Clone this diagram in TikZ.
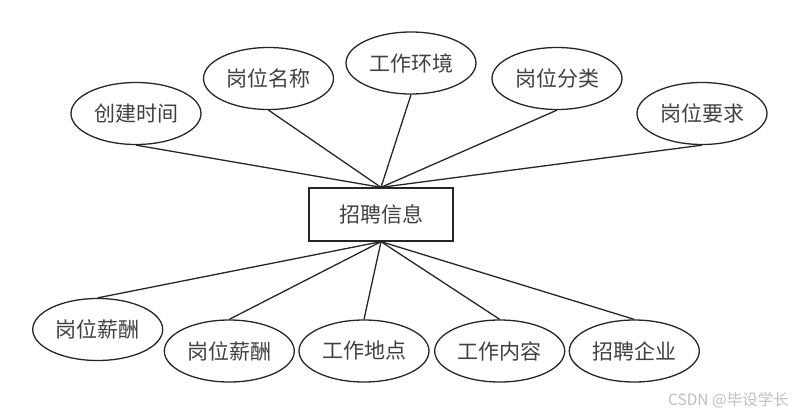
\documentclass[tikz,border=0pt]{standalone}
\usepackage{fontspec}
\setmainfont{Noto Sans CJK SC}
\usetikzlibrary{shapes.geometric}
\begin{document}
\begin{tikzpicture}[x=1pt,y=-1pt,
  attr/.style={draw=black!85, line width=1.3pt, ellipse, minimum width=130pt, minimum height=62pt, inner sep=0pt, font=\fontsize{21}{24}\selectfont, text=black!75},
  entity/.style={draw=black!85, line width=1.3pt, rectangle, minimum width=144pt, minimum height=53pt, inner sep=0pt, font=\fontsize{21}{24}\selectfont, text=black!75},
  link/.style={draw=black!85, line width=1.3pt}]
\useasboundingbox (0,0) rectangle (800,415);
\node[entity] (c) at (381,214.5) {招聘信息};
\node[attr] (a1) at (136,113.5) {创建时间};
\node[attr] (a2) at (268.5,78.5) {岗位名称};
\node[attr] (a3) at (411,63) {工作环境};
\node[attr] (a4) at (557,78.5) {岗位分类};
\node[attr] (a5) at (702,113.5) {岗位要求};
\node[attr] (b1) at (97.7,329.5) {岗位薪酬};
\node[attr] (b2) at (229.3,351) {岗位薪酬};
\node[attr] (b3) at (364,351) {工作地点};
\node[attr] (b4) at (499.7,351) {工作内容};
\node[attr] (b5) at (634.3,351) {招聘企业};
\foreach \n in {a1,a2,a3,a4,a5} \draw[link] (c.north) -- (\n.south);
\foreach \n in {b1,b2,b3,b4,b5} \draw[link] (c.south) -- (\n.north);
\node[anchor=east, inner sep=0pt, text=black!25, font=\fontsize{15.5}{18}\selectfont] (wm) at (789,400) {CSDN @毕设学长};
\end{tikzpicture}
\end{document}
